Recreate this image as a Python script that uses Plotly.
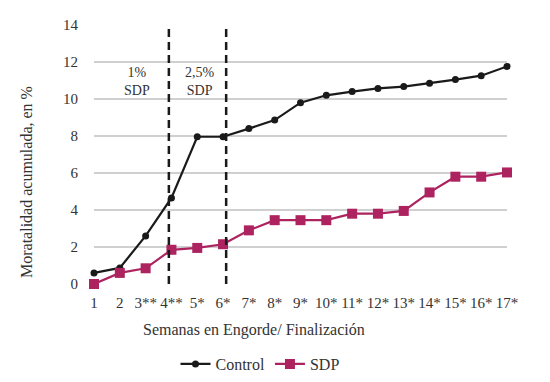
import plotly.graph_objects as go

weeks = list(range(1, 18))
week_labels = ["1", "2", "3**", "4**", "5*", "6*", "7*", "8*", "9*", "10*",
               "11*", "12*", "13*", "14*", "15*", "16*", "17*"]
control = [0.6, 0.87, 2.6, 4.65, 7.96, 7.96, 8.4, 8.86, 9.8, 10.2,
           10.4, 10.57, 10.67, 10.85, 11.05, 11.26, 11.76]
sdp = [0.0, 0.6, 0.85, 1.85, 1.95, 2.15, 2.9, 3.45, 3.45, 3.45,
       3.8, 3.8, 3.95, 4.95, 5.8, 5.8, 6.03]
phase_lines = [3.9, 6.12]
phase_labels = ["1%<br>SDP", "2,5%<br>SDP"]
phase_label_x = [2.66, 5.1]

FONT = "Liberation Serif, Times New Roman, DejaVu Serif, serif"
TXT = "#333333"
BLACK = "#1a1a1a"
MAGENTA = "#AD2360"

W, H = 550, 382
L, R, T, B = 94, 43, 25, 98

fig = go.Figure()
fig.add_trace(go.Scatter(
    x=weeks, y=control, name="Control", mode="lines+markers",
    line=dict(color=BLACK, width=2.2),
    marker=dict(symbol="circle", size=7, color=BLACK),
    cliponaxis=False))
fig.add_trace(go.Scatter(
    x=weeks, y=sdp, name="SDP", mode="lines+markers",
    line=dict(color=MAGENTA, width=2.2),
    marker=dict(symbol="square", size=10, color=MAGENTA),
    cliponaxis=False))

for xv in phase_lines:
    fig.add_shape(type="line", x0=xv, x1=xv, y0=0, y1=14, xref="x", yref="y",
                  line=dict(color=BLACK, width=2.5, dash="8px,5px"))
for xv, t in zip(phase_label_x, phase_labels):
    fig.add_annotation(x=xv, y=10.95, text=t, showarrow=False,
                       xanchor="center", yanchor="middle", borderpad=0,
                       font=dict(family=FONT, size=14, color=TXT),
                       align="center")

# axis titles as paper annotations
pw, ph = W - L - R, H - T - B
fig.add_annotation(xref="paper", yref="paper",
                   x=(254 - L) / pw, y=(H - B - 330) / ph,
                   xanchor="center", yanchor="middle",
                   text="Semanas en Engorde/ Finalización", showarrow=False,
                   font=dict(family=FONT, size=16, color=TXT))
fig.add_annotation(xref="paper", yref="paper",
                   x=(26 - L) / pw, y=(H - B - 182) / ph, textangle=-90,
                   xanchor="center", yanchor="middle",
                   text="Moratalidad acumulada, en %", showarrow=False,
                   font=dict(family=FONT, size=16, color=TXT))

fig.update_layout(
    width=W, height=H,
    margin=dict(l=L, r=R, t=T, b=B, autoexpand=False),
    plot_bgcolor="white", paper_bgcolor="white",
    font=dict(family=FONT, size=15, color=TXT),
    showlegend=True,
    legend=dict(orientation="h", x=(260 - L) / pw, xanchor="center",
                y=(H - B - 364) / ph, yanchor="middle",
                font=dict(family=FONT, size=16, color=TXT)),
    xaxis=dict(
        range=[1, 17], tickmode="array", tickvals=weeks, ticktext=week_labels,
        showgrid=False, zeroline=False, showline=False, ticks="",
        automargin=False, ticklabelstandoff=8,
        tickfont=dict(family=FONT, size=15, color=TXT)),
    yaxis=dict(
        range=[0, 14], dtick=2, showgrid=True, gridcolor="#D0D0D0", gridwidth=2,
        zeroline=False, showline=False, ticks="", automargin=False,
        ticklabelstandoff=15,
        tickfont=dict(family=FONT, size=15, color=TXT)),
)
fig.write_html("out.html", config={"displayModeBar": False},
               post_script="document.body.style.margin='0';document.body.style.padding='0';")
